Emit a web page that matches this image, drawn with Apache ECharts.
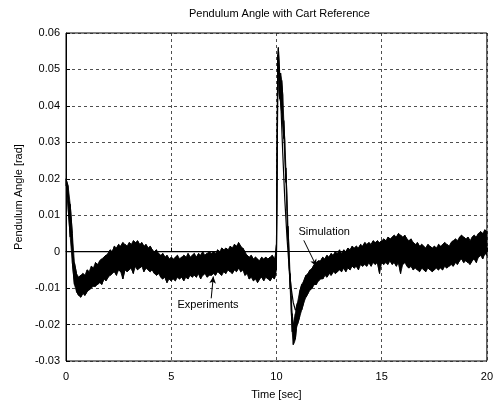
<!DOCTYPE html>
<html>
<head>
<meta charset="utf-8">
<script src="https://cdn.jsdelivr.net/npm/echarts@6/dist/echarts.min.js"></script>
<style>
html,body{margin:0;padding:0;background:#fff;}
#c{width:496px;height:406px;}
</style>
</head>
<body>
<div id="c"></div>
<script>
// ---------- data ----------
const chartTitle = 'Pendulum Angle with Cart Reference';
const xName = 'Time [sec]';
const yName = 'Pendulum Angle [rad]';
const xTicks = [0, 5, 10, 15, 20];
const yTicks = [-0.03, -0.02, -0.01, 0, 0.01, 0.02, 0.03, 0.04, 0.05, 0.06];

// Experiment: noisy measurement, given as upper / lower envelope of the noise band (mrad)
const expTime = [
  0.0,0.1,0.2,0.3,0.4,0.5,0.6,0.7,0.8,0.9,
  1.0,1.1,1.2,1.3,1.4,1.5,1.6,1.7,1.8,1.9,
  2.0,2.1,2.2,2.3,2.4,2.5,2.6,2.7,2.8,2.9,
  3.0,3.1,3.2,3.3,3.4,3.5,3.6,3.7,3.8,3.9,
  4.0,4.1,4.2,4.3,4.4,4.5,4.6,4.7,4.8,4.9,
  5.0,5.1,5.2,5.3,5.4,5.5,5.6,5.7,5.8,5.9,
  6.0,6.1,6.2,6.3,6.4,6.5,6.6,6.7,6.8,6.9,
  7.0,7.1,7.2,7.3,7.4,7.5,7.6,7.7,7.8,7.9,
  8.0,8.1,8.2,8.3,8.4,8.5,8.6,8.7,8.8,8.9,
  9.0,9.1,9.2,9.3,9.4,9.5,9.6,9.7,9.8,9.9,
  9.95,10.0,10.03,10.06,10.09,10.12,10.15,10.2,10.25,10.3,
  10.35,10.4,10.45,10.5,10.55,10.6,10.65,10.7,10.75,10.8,
  10.85,10.9,10.95,
  11.0,11.1,11.2,11.3,11.4,11.5,11.6,11.7,11.8,11.9,
  12.0,12.1,12.2,12.3,12.4,12.5,12.6,12.7,12.8,12.9,
  13.0,13.1,13.2,13.3,13.4,13.5,13.6,13.7,13.8,13.9,
  14.0,14.1,14.2,14.3,14.4,14.5,14.6,14.7,14.8,14.9,
  15.0,15.1,15.2,15.3,15.4,15.5,15.6,15.7,15.8,15.9,
  16.0,16.1,16.2,16.3,16.4,16.5,16.6,16.7,16.8,16.9,
  17.0,17.1,17.2,17.3,17.4,17.5,17.6,17.7,17.8,17.9,
  18.0,18.1,18.2,18.3,18.4,18.5,18.6,18.7,18.8,18.9,
  19.0,19.1,19.2,19.3,19.4,19.5,19.6,19.7,19.8,19.9,
  20.0
];
const expHigh = [
  20,18,13,5,-3,-6,-7,-6.5,-6,-6.5,
  -5,-5.5,-4,-4.5,-3,-3.5,-2.5,-2,-1.5,-1,
  -0.5,0.5,0,1.5,1,2,1.5,2.5,2,1.5,
  2.5,2,3,2.5,3,2,2.5,1.5,2,1,
  1.5,0.5,0,0.5,-0.5,-1,-0.5,-1.5,-1,-2,
  -1.5,-2,-1.5,-1,-2,-1.5,-1,-1.5,-0.5,-1.5,
  -1,-0.5,-1.5,-0.5,-1,0,-1,-0.5,0,-0.5,
  0,-0.5,0.5,0,1,0.5,1,0.5,1.5,1,
  2,1.5,2.5,1.5,1,0,-1,-1.5,-1,-2,
  -1.5,-2,-2.5,-1.5,-2,-1.5,-2,-1.5,-1,-2,
  -1,2,30,54,56,49,48,49,47,43,
  36,30,23,15,7,0,-6,-12,-17,-20,
  -19,-17,-15,
  -14,-11,-9,-8,-6.5,-6,-5,-4.5,-3.5,-3,
  -2.5,-2.5,-1.5,-2,-1,-1.5,-0.5,-1,0,-0.5,
  0.5,-0.5,0.5,0,1,0.5,1.5,1,1.5,1,
  2,1.5,2.5,2,2.5,2,3,2.5,3,2.5,
  3,3.5,3,4,3.5,4,4.5,4,5,4.5,
  4,4.5,3.5,3,3.5,2.5,2,2.5,1.5,2,
  1.5,1,2,1.5,1,1.5,1,2,1.5,2,
  2.5,2,1.5,2.5,3,3.5,3,4,4.5,4,
  3.5,4,3,4,4.5,4,5,5.5,5,6,
  5.5
];
const expLow = [
  18,12,4,-3,-9,-11,-12,-12.5,-11.5,-12,
  -11,-10.5,-10,-9.5,-9.5,-9,-8.5,-9,-7.5,-8,
  -7,-6.5,-6,-5.5,-6.5,-5,-5.5,-7.5,-5,-5.5,
  -5,-4.5,-6,-4,-5,-4.5,-4,-5.5,-4.5,-5,
  -5.5,-5,-6,-6.5,-6,-7,-7.5,-7,-8.5,-7.5,
  -8,-7.5,-8,-7,-7.5,-7,-8,-7,-7.5,-6.5,
  -7,-6.5,-7,-6,-7.5,-6.5,-6,-7,-6.5,-6.5,
  -6,-6.5,-5.5,-6,-6.5,-5.5,-6,-5,-5.5,-6,
  -5,-5.5,-4.5,-5.5,-5,-6.5,-6,-7.5,-7,-8,
  -7.5,-8.5,-7.5,-7,-8,-7,-7.5,-8,-7,-7.5,
  -6.5,-5,22,48,50,44,42,41,38,35,
  31,26,19,11,3,-4,-10,-16,-22,-25.5,
  -25,-24,-21,
  -20,-18,-16,-14,-12.5,-11.5,-10.5,-10,-9,-9,
  -8,-7.5,-7.5,-6.5,-7,-6,-6.5,-5.5,-6,-5.5,
  -5,-5.5,-4.5,-5.5,-4.5,-5,-4,-4.5,-4,-5,
  -3.5,-4,-3.5,-4,-3,-4,-3,-3.5,-3,-6,
  -3,-3.5,-3,-3.5,-2.5,-3.5,-3,-4,-3,-6,
  -3.5,-3,-4,-4.5,-4,-5,-4.5,-5,-5.5,-4.5,
  -5,-5.5,-4.5,-5,-5.5,-5,-4.5,-5,-4.5,-5,
  -4,-4.5,-4,-3.5,-4,-3,-3.5,-2.5,-2,-3,
  -2.5,-3,-3.5,-2.5,-2,-3,-1.5,-1,-2,-0.5,
  -1
];

// Simulation: smooth model response (rad)
const simTime = [0, 10.0, 10.04, 10.08, 10.1, 10.13, 10.2, 10.3, 10.4, 10.5, 10.6, 10.7, 10.8, 10.9, 11.0, 11.2, 11.4, 11.6, 11.8, 12.0, 12.5, 13, 14, 15, 16, 18, 20];
const simValue = [0, 0, 0.03, 0.052, 0.055, 0.052, 0.042, 0.027, 0.014, 0.004, -0.004, -0.010, -0.014, -0.016, -0.0155, -0.013, -0.010, -0.0075, -0.0055, -0.004, -0.003, -0.002, -0.001, 0, 0.0005, 0.001, 0.001];

// Annotations (data coordinates)
const annoText = ['Experiments', 'Simulation'];
const annoTextPos = [[6.75, -0.0145], [12.27, 0.0053]];
const annoArrowFrom = [[6.9, -0.0128], [11.3, 0.0031]];
const annoArrowTo = [[7.0, -0.0068], [11.9, -0.004]];

// ---------- build ----------
const mrad = 0.001;
const expData = [];
for (let i = 0; i < expTime.length; i++) {
  const hi = expHigh[i] * mrad, lo = expLow[i] * mrad;
  if (i % 2 === 0) { expData.push([expTime[i], lo]); expData.push([expTime[i], hi]); }
  else { expData.push([expTime[i], hi]); expData.push([expTime[i], lo]); }
}
const simData = simTime.map((t, i) => [t, simValue[i]]);

const FONT = 'Liberation Sans';
const chart = echarts.init(document.getElementById('c'), null, {renderer: 'canvas'});
const GL = 66, GR = 3, GT = 33, GB = 45;

chart.setOption({
  animation: false,
  backgroundColor: '#fff',
  textStyle: {fontFamily: FONT, color: '#000'},
  grid: {left: GL, right: GR, top: GT, bottom: GB, show: true, borderColor: '#000', borderWidth: 1, containLabel: false},
  graphic: [{
    type: 'text', x: GL + (496 - GL - GR) / 2, y: 8,
    style: {text: chartTitle, font: '11px "Liberation Sans"', fill: '#000', textAlign: 'center', textVerticalAlign: 'top'}
  }],
  xAxis: {
    type: 'value', min: xTicks[0], max: xTicks[xTicks.length - 1], interval: 5,
    name: xName, nameLocation: 'middle', nameGap: 28,
    nameTextStyle: {fontFamily: FONT, fontSize: 11, color: '#000'},
    axisLine: {show: true, lineStyle: {color: '#000', width: 1}},
    axisTick: {show: true, inside: true, length: 4, lineStyle: {color: '#000'}},
    axisLabel: {fontFamily: FONT, fontSize: 11, color: '#000', margin: 10},
    splitLine: {show: true, lineStyle: {color: '#222', width: 0.8, type: [3, 3]}}
  },
  yAxis: {
    type: 'value', min: yTicks[0], max: yTicks[yTicks.length - 1], interval: 0.01,
    name: yName, nameLocation: 'middle', nameGap: 40, nameRotate: 90,
    nameTextStyle: {fontFamily: FONT, fontSize: 11, color: '#000'},
    axisLine: {show: true, lineStyle: {color: '#000', width: 1}},
    axisTick: {show: true, inside: true, length: 4, lineStyle: {color: '#000'}},
    axisLabel: {fontFamily: FONT, fontSize: 11, color: '#000', margin: 6,
      formatter: v => Math.abs(v) < 1e-9 ? '0' : v.toFixed(2)},
    splitLine: {show: true, lineStyle: {color: '#222', width: 0.8, type: [3, 3]}}
  },
  series: [
    {
      // filled noise band of the experiment (upper envelope forward, lower envelope back)
      name: 'Experiments band', type: 'custom', data: [[0, 0]], z: 2, silent: true, clip: true,
      renderItem: (params, api) => {
        const pts = [];
        for (let i = 0; i < expTime.length; i++) pts.push(api.coord([expTime[i], expHigh[i] * mrad]));
        for (let i = expTime.length - 1; i >= 0; i--) pts.push(api.coord([expTime[i], expLow[i] * mrad]));
        return {type: 'polygon', shape: {points: pts}, style: {fill: '#000', stroke: '#000', lineWidth: 0.8}};
      }
    },
    {
      name: 'Experiments', type: 'line', data: expData, showSymbol: false, symbol: 'none',
      lineStyle: {color: '#000', width: 1}, z: 2, sampling: null, silent: true,
      markLine: {
        silent: true, symbol: ['none', 'arrow'], symbolSize: [5, 7],
        lineStyle: {color: '#000', width: 1, type: 'solid'}, label: {show: false},
        data: annoArrowFrom.map((p, i) => [{coord: p}, {coord: annoArrowTo[i]}])
      },
      markPoint: {
        silent: true, symbol: 'circle', symbolSize: 0,
        label: {show: true, position: 'inside', fontFamily: FONT, fontSize: 11, color: '#000',
          formatter: p => p.name},
        data: annoText.map((s, i) => ({name: s, coord: annoTextPos[i]}))
      }
    },
    {
      name: 'Simulation', type: 'line', data: simData, showSymbol: false, symbol: 'none',
      lineStyle: {color: '#000', width: 1.2}, z: 3, silent: true
    }
  ]
});
</script>
</body>
</html>
